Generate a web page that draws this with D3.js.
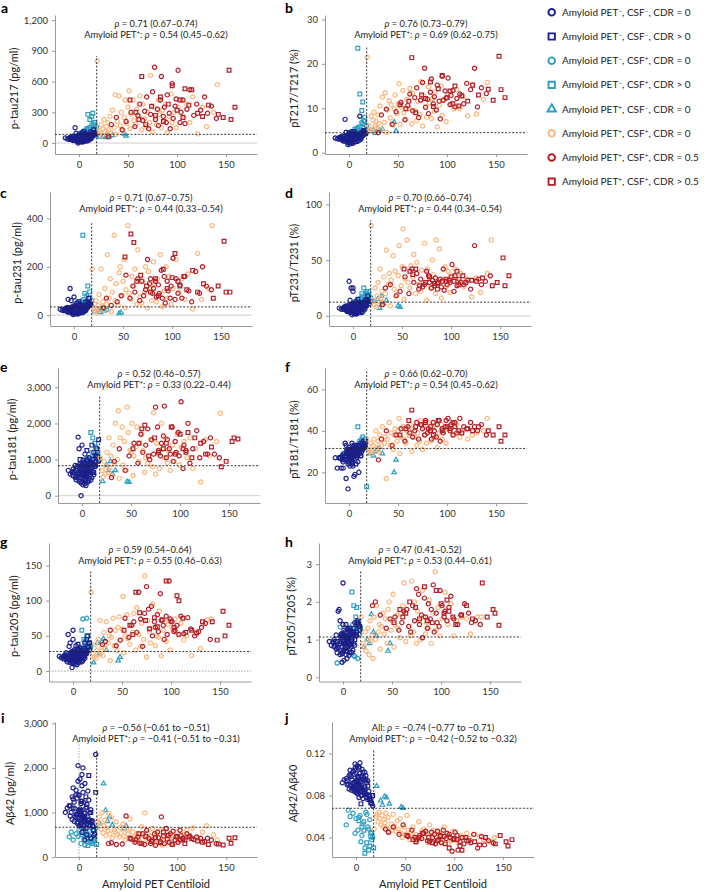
<!DOCTYPE html>
<html><head><meta charset="utf-8">
<script src="https://cdn.jsdelivr.net/npm/d3@7"></script>
<style>
body{margin:0;background:#fff;}
text{font-family:Lato,'Noto Sans',sans-serif;}
</style>
</head><body><script>
// ===== DATA =====
// Row layout: [Centiloid, p-tau217, pT217/T217 %, p-tau231, pT231/T231 %, p-tau181, pT181/T181 %, p-tau205, pT205/T205 %, Aβ42, Aβ42/Aβ40]
const petNegCsfNegCdr0 = [
[-3,40,3.1,20,6,620,28,20,0.9,950,0.092],[2,25,2.6,12,4,480,26,15,0.75,1200,0.098],[5,60,3.6,30,9,800,30,25,1.1,820,0.085],
[-1,15,2.2,8,3,350,24,12,0.65,1400,0.104],[8,70,3.9,35,10,900,31,28,1.2,500,0.082],[0,35,3.0,18,6,580,27,58,2.5,1050,0.094],
[4,45,3.3,22,7,700,29,22,1.0,920,0.090],[-6,30,2.8,65,5,520,22,18,0.8,1300,0.100],[11,85,8.2,40,12,1000,32,32,1.3,700,0.078],
[3,20,2.4,10,3,420,25,14,0.7,1600,0.106],[-2,55,3.4,28,25,750,30,24,1.05,880,0.088],[7,40,3.2,15,5,640,28,19,0.85,1100,0.095],
[1,10,2.0,5,2,300,23,10,0.45,1750,0.108],[-8,50,3.5,25,8,680,22,23,0.95,1000,0.091],[6,90,4.2,45,11,950,33,30,1.25,380,0.080],
[13,65,3.8,32,9,850,31,27,1.15,780,0.084],[-4,150,7.5,110,31,1620,34,35,1.8,900,0.087],[2,30,2.9,14,5,560,27,17,0.8,1250,0.097],
[9,55,3.5,26,8,720,29,23,1.0,850,0.086],[-1,0,1.8,2,1,0,12,5,0.4,2050,0.110],[5,45,3.2,20,6,600,28,21,0.9,980,0.093],
[0,75,4.5,75,22,1400,32,45,1.4,700,0.083],[15,100,4.8,50,13,1100,33,35,1.4,480,0.075],[-7,35,3.0,16,5,500,26,16,0.75,1350,0.099],
[3,50,3.4,24,7,660,29,22,0.95,940,0.089],[10,80,4.0,38,10,920,31,29,1.2,720,0.081],[-3,20,2.5,10,3,400,17,12,0.6,1500,0.103],
[6,60,3.7,28,8,780,30,24,1.05,860,0.087],[1,40,3.1,18,6,590,28,19,0.88,1080,0.094],[-10,45,3.3,22,7,640,27,20,0.92,1150,0.096],
[12,110,4.5,55,14,1200,34,40,1.45,420,0.076],[4,25,2.7,12,4,460,25,14,0.7,1450,0.101],[-5,60,3.6,30,9,820,29,52,1.75,800,0.085],
[8,35,3.0,16,5,540,27,17,0.8,1180,0.097],[2,70,3.9,33,9,860,30,26,1.1,760,0.084],[-2,30,2.8,14,4,500,26,15,0.72,1320,0.100],
[14,75,4.1,36,11,940,32,28,1.2,690,0.079],[0,55,3.4,26,25,730,29,22,1.0,960,0.090],[7,90,4.4,42,12,1050,33,33,1.3,640,0.077],
[-12,40,3.1,20,6,600,22,19,0.85,1100,0.095],[3,15,2.3,6,2,330,24,11,0.6,1850,0.107],[9,50,3.3,24,7,680,28,21,0.95,900,0.088],
[-1,65,3.7,30,9,820,30,25,1.1,780,0.086],[5,35,2.9,17,5,560,18,17,0.8,1220,0.098],[16,95,4.6,48,13,1080,33,34,1.35,520,0.072],
[-6,25,2.6,12,4,440,25,13,0.65,1550,0.104],[1,85,4.3,40,11,980,31,30,1.25,720,0.082],[11,45,3.2,22,7,650,29,20,0.9,1000,0.092],
[4,60,3.6,29,8,790,30,24,1.05,850,0.087],[-3,95,4.6,60,14,1300,33,40,1.5,1400,0.089],[6,20,2.4,9,3,380,19,12,0.58,1650,0.105],
[2,45,3.2,21,6,620,28,20,0.9,1020,0.093],[-9,55,3.5,27,8,740,27,22,1.0,920,0.090],[8,75,4.0,35,10,880,31,27,1.15,740,0.083],
[0,30,2.8,13,4,480,25,15,0.7,1380,0.101],[13,60,3.7,30,9,800,30,24,1.1,820,0.080],[3,100,4.7,50,13,1150,34,36,1.4,550,0.078],
[-4,40,3.1,19,6,600,28,19,0.86,1080,0.095],[10,30,2.7,14,4,500,20,15,0.72,1280,0.099],[5,55,3.5,27,8,760,29,23,1.0,900,0.088],
[-1,20,2.4,9,3,400,25,12,0.62,1700,0.106],[7,65,3.8,31,9,830,30,25,1.1,800,0.085],[-14,50,3.3,24,7,700,27,21,0.95,1000,0.092],
[2,80,4.1,38,10,920,31,28,1.2,740,0.082],[12,40,3.0,19,6,580,28,18,0.85,1060,0.094],[4,10,2.1,4,2,280,23,9,0.5,2000,0.111],
[-2,70,3.9,34,10,880,31,27,1.15,760,0.084],[6,45,3.2,21,6,640,28,20,0.92,990,0.091],[17,80,4.2,40,11,960,32,30,1.25,2300,0.070],
[1,50,3.3,24,7,690,29,21,0.96,940,0.090],[-7,65,3.7,32,9,840,28,26,1.12,840,0.086],[9,25,2.6,11,3,430,25,13,0.66,1480,0.102],
[3,60,3.6,28,8,780,30,24,1.05,870,0.087],[0,45,3.2,20,6,610,28,20,0.9,1030,0.093],[11,70,3.9,33,10,870,31,26,1.15,770,0.081],
[-5,35,3.0,17,5,540,26,16,0.78,1230,0.098],[5,85,4.3,41,11,1000,32,31,1.28,700,0.080],[8,40,3.1,19,6,590,28,18,0.87,1120,0.095],
[-2,50,3.4,23,7,670,29,21,0.94,960,0.091],[14,65,3.8,31,9,820,31,25,1.1,800,0.077]
];
const petNegCsfNegCdrPos = [
[-6,45,3.2,25,8,700,27,20,0.95,1100,0.090],[10,80,4.0,40,12,1400,33,30,1.2,1830,0.095],[3,30,2.8,15,5,550,26,18,0.8,1250,0.098],
[-2,60,3.7,30,10,1000,30,25,1.1,950,0.087],[14,100,4.6,50,14,1100,34,45,1.45,700,0.076],[7,20,2.5,10,3,420,24,14,0.65,1350,0.102],
[17,90,4.4,45,13,1550,35,40,1.35,1450,0.080],[0,70,3.9,35,11,850,30,28,1.15,880,0.085],[12,50,3.4,26,8,640,28,22,1.0,1000,0.089],
[5,110,4.8,55,15,1250,33,38,1.3,650,0.072],[-9,35,3.0,18,6,560,27,17,0.82,1150,0.094],[9,65,3.6,30,9,780,29,24,1.05,820,0.083],
[15,130,5.0,70,18,1300,35,50,1.5,600,0.073],[2,40,3.1,20,7,620,27,20,0.9,1050,0.092]
];
const petNegCsfPosCdr0 = [
[-10,50,3.4,20,6,650,27,20,0.95,450,0.052],[-6,70,3.8,30,9,760,29,24,0.38,380,0.060],[-3,40,3.1,18,5,560,26,18,1.33,520,0.063],
[0,90,4.3,45,12,900,31,28,1.1,620,0.058],[2,60,3.5,25,7,700,28,22,0.9,300,0.047],[4,110,4.6,55,14,1000,32,30,1.2,560,0.061],
[6,80,4.0,35,10,800,30,25,1.0,270,0.042],[8,130,5.2,60,16,1050,33,34,1.25,430,0.055],[10,150,5.8,65,18,1200,34,74,1.4,480,0.064],
[12,100,4.7,50,13,950,33,30,0.55,350,0.050],[14,170,6.5,55,20,1100,34,75,1.3,600,0.057],[15,120,5.5,40,15,1000,35,32,0.5,680,0.045],
[16,200,7.0,70,22,1150,36,40,1.45,520,0.038],[-8,45,3.3,22,6,620,27,19,0.8,560,0.066],[-1,75,3.9,32,9,780,29,24,1.05,460,0.044],
[3,55,3.4,25,7,680,28,21,0.9,640,0.059],[5,95,4.4,42,11,880,31,27,1.1,400,0.036],[7,65,3.7,28,8,740,29,23,0.95,500,0.053],
[9,140,5.6,52,15,980,33,31,1.2,330,0.030],[11,85,4.2,38,11,850,30,26,0.58,580,0.062],[13,180,6.8,58,18,1100,35,36,1.35,420,0.048],
[17,110,5.0,45,14,950,34,33,1.15,650,0.040]
];
const petNegCsfPosCdrPos = [
[9,280,23.5,330,20,1750,42,58,2.26,260,0.025],[11,230,13.2,90,25,1600,35,45,1.9,350,0.035],[14,290,11.4,120,22,1350,37,50,1.85,300,0.032],
[16,200,8.0,96,18,1200,33,40,1.5,420,0.044],[18,150,6.0,60,16,1000,13,35,1.3,280,0.030],[6,120,5.2,45,14,950,31,30,1.2,450,0.050],
[13,260,9.5,80,20,1450,36,42,1.6,330,0.028],[3,100,4.8,40,12,880,30,28,1.1,500,0.056],[15,180,7.2,70,17,1150,34,38,1.4,380,0.041],
[8,140,5.5,50,15,1000,32,33,1.25,520,0.047]
];
const petPosCsfNegCdr0 = [
[21,60,4.8,15,13,400,29,12,0.8,750,0.089],[25,70,5.2,20,15,850,28,40,1.0,1650,0.075],[27,55,4.4,12,7,700,30,25,0.9,1050,0.071],
[29,80,5.5,25,18,950,31,42,1.67,800,0.079],[31,65,5.0,18,11,600,32,46,1.2,900,0.078],[34,75,5.3,22,14,700,29,30,1.1,720,0.072],
[46,90,6.9,7,9,390,20,15,0.7,640,0.069],[48,70,4.9,10,8,380,26,20,0.9,700,0.068]
];
const petPosCsfPosCdr0 = [
[18.5,800,21.5,190,81,1050,36,112,1.6,780,0.048],[20.5,120,6.0,30,14,700,31,25,0.9,900,0.060],[21.5,95,5.1,18,10,520,30,20,0.8,760,0.062],
[22.5,180,8.2,60,25,950,34,38,1.2,620,0.055],[23.5,75,4.8,12,8,600,29,18,0.7,1000,0.064],[24.5,140,7.3,40,18,820,33,30,1.0,540,0.058],
[25.5,230,9.1,85,30,1200,36,45,1.3,700,0.052],[26.5,110,5.9,25,13,650,31,24,0.6,830,0.061],[27.5,160,7.0,190,42,1600,40,72,1.5,480,0.050],
[28.5,90,5.5,35,16,780,32,28,0.95,650,0.057],[29.5,200,8.5,55,22,1100,35,35,1.1,590,0.054],[30.5,130,6.6,20,12,560,30,22,0.5,980,0.063],
[31.5,260,10.5,110,35,1400,38,55,1.6,520,0.049],[33,100,5.2,45,20,900,33,32,1.0,880,0.059],[34,320,12.5,250,59,2000,42,70,1.9,430,0.045],
[36,150,6.8,70,28,1000,34,40,1.2,610,0.053],[37,470,13.5,150,38,2350,37,50,1.4,560,0.047],[38,85,4.6,15,9,480,17,15,0.75,790,0.062],
[39,210,9.6,95,32,1600,36,48,1.35,500,0.051],[41,460,11.7,330,54,1900,44,75,1.7,450,0.046],[42,170,7.8,60,24,850,33,36,1.15,660,0.056],
[43,300,10.8,130,40,1500,39,58,1.55,540,0.048],[45,120,6.2,40,19,700,31,29,0.9,740,0.058],[46,250,9.9,175,36,2450,38,62,1.8,470,0.044],
[47,420,13,200,63,1750,41,77,2.0,380,0.040],[49,190,8.8,80,27,1250,35,44,1.25,600,0.050],[50,350,11,140,44,1200,40,60,1.5,510,0.043],
[51,510,15.5,230,78,2000,46,106,2.2,620,0.042],[52,140,6.4,30,15,560,29,26,0.8,850,0.061],[53,280,10.2,105,33,1100,37,50,1.4,430,0.047],
[55,420,14,370,68,1350,42,80,1.65,560,0.038],[56,220,9.0,90,30,1900,36,46,1.3,390,0.045],[58,180,7.5,65,25,950,34,38,1.05,470,0.050],
[59,330,12,160,45,1450,40,65,1.7,520,0.041],[61,260,10,120,35,1700,38,55,1.9,440,0.043],[62,460,14.5,190,55,1250,43,82,2.5,350,0.036],
[64,130,6.5,45,20,650,30,30,0.95,680,0.055],[65,380,13.4,270,48,1050,41,90,1.8,480,0.039],[67,240,9.5,75,28,900,37,52,1.35,990,0.046],
[69,160,7.2,50,22,1000,33,35,1.1,400,0.048],[70,300,11.5,140,41,1550,39,68,2.55,540,0.040],[72,200,8.6,95,30,800,35,45,1.2,380,0.044],
[73,660,16,200,65,2300,45,135,2.0,460,0.035],[75,110,6.0,30,14,600,31,20,0.9,640,0.052],[76,350,12.8,180,42,1450,42,72,1.75,350,0.037],
[78,250,10.4,110,34,1150,38,56,1.5,290,0.042],[79,180,8.0,60,25,750,34,40,1.0,520,0.047],[81,420,14.8,220,50,2000,44,95,2.3,430,0.034],
[82,280,11.2,130,37,1300,40,62,1.6,330,0.040],[84,150,7.7,55,20,1050,35,36,1.15,610,0.045],[85,320,12.2,150,68,1600,41,50,1.45,270,0.038],
[87,220,9.3,85,29,900,37,48,1.3,450,0.043],[88,380,13.8,250,60,1250,43,85,2.05,320,0.036],[90,100,5.8,35,16,700,32,22,0.9,560,0.050],
[92,260,10.7,100,33,1400,39,58,1.7,400,0.039],[94,480,15,200,44,950,43,70,2.8,360,0.034],[95,200,8.4,70,26,1150,36,42,1.25,480,0.041],
[97,300,11.9,160,40,1700,40,66,1.85,300,0.037],[99,150,7.0,45,21,850,34,30,1.1,560,0.046],[101,350,13.1,110,36,1350,42,60,1.55,420,0.038],
[104,420,11,230,42,1500,41,74,2.25,380,0.035],[107,250,9.8,95,31,1050,38,52,1.4,510,0.042],[110,380,14.2,150,38,1600,43,68,1.95,600,0.040],
[113,200,10.0,65,26,750,37,44,1.1,480,0.044],[116,450,12.6,170,33,1300,40,50,1.5,650,0.039],[121,90,8.3,25,17,380,36,22,1.6,410,0.043],
[126,350,15.4,255,34,1550,38,54,1.55,560,0.041],[130,160,8.7,65,21,1100,39,32,1.15,700,0.038],[137,300,12.0,110,38,1500,40,73,1.6,500,0.036],
[141,570,15.8,370,68,2280,46,74,1.6,380,0.040]
];
const petPosCsfPosCdr05 = [
[30,60,4.5,30,10,500,26,38,1.9,300,0.048],[33,180,8.5,70,25,950,36,42,2.0,320,0.045],[38,250,9.8,40,28,1300,40,58,1.65,280,0.050],
[44,130,6.4,55,18,700,33,36,1.3,290,0.043],[48,210,9.2,80,22,1100,38,44,1.55,920,0.052],[53,300,11.3,165,35,1450,41,75,1.6,400,0.041],
[57,160,7.4,70,20,900,35,48,1.25,330,0.047],[60,270,10.6,120,42,1700,42,65,1.45,450,0.040],[62,380,13.2,95,30,1200,39,70,1.75,310,0.038],
[65,220,9.4,150,38,1400,37,55,1.8,520,0.042],[67,310,12.4,60,24,1850,40,112,1.35,280,0.039],[69,450,14.6,140,33,1000,44,74,1.2,600,0.044],
[71,140,7.9,80,26,1550,36,35,1.9,420,0.046],[73,280,11.8,105,28,1150,43,82,1.5,300,0.037],[75,500,15.8,230,40,2450,41,120,2.35,380,0.036],
[77,740,19.0,130,36,1900,38,88,2.2,520,0.045],[78,230,10.2,150,30,1250,45,60,1.4,260,0.040],[80,330,12.0,90,25,1100,39,92,1.65,560,0.043],
[81,170,8.8,110,32,1450,41,50,1.05,430,0.034],[83,420,13.6,140,27,1650,42,70,2.1,350,0.046],[84,650,16.6,75,34,2480,36,62,1.6,900,0.038],
[86,260,11.0,125,29,1050,44,80,1.3,470,0.042],[87,350,12.6,90,30,1550,40,56,1.95,300,0.035],[89,200,9.6,185,33,1300,37,110,1.55,640,0.047],
[90,470,15.2,70,26,1150,43,72,1.8,400,0.041],[92,290,11.6,160,42,1900,45,65,2.45,330,0.039],[93,140,7.6,50,23,950,35,45,1.2,520,0.044],
[95,580,17.2,140,31,1500,41,78,1.7,280,0.043],[96,240,11.8,100,28,1200,39,52,1.45,580,0.040],[98,360,13.9,70,32,1750,42,128,1.35,380,0.027],
[99,430,12.3,120,30,1100,45,74,2.3,450,0.038],[101,710,16.8,235,46,2600,46,70,1.9,330,0.045],[103,200,10.8,65,22,750,40,56,1.6,600,0.042],
[104,300,12.9,150,36,1400,43,58,1.75,480,0.028],[106,420,14.0,90,27,1250,38,65,1.5,420,0.036],[108,190,10.3,125,33,2000,44,52,1.85,380,0.040],
[110,330,12.2,70,30,900,39,78,2.15,520,0.034],[113,520,13.2,160,28,1300,46,53,1.55,470,0.037],[117,270,11.0,100,32,1800,42,76,1.4,390,0.035],
[120,380,15.6,55,24,1050,41,60,1.65,450,0.043],[124,320,14.2,180,63,1500,44,50,1.95,420,0.030],[128,450,19.0,90,33,1150,42,56,1.7,350,0.041],
[131,290,10.3,200,28,1600,40,62,1.45,420,0.033],[135,360,14.6,120,31,1150,43,68,1.5,380,0.037],[140,240,13.3,105,36,1050,38,45,1.4,300,0.035]
];
const petPosCsfPosCdrGt05 = [
[52,420,10.8,240,42,1300,38,58,1.45,420,0.042],[58,300,9.9,335,40,1450,41,65,1.8,380,0.038],[61,230,11.6,300,37,1850,45,52,1.6,520,0.036],
[64,650,21.4,140,42,1950,50,112,1.7,300,0.040],[68,180,9.0,165,27,1100,42,83,2.0,460,0.044],[74,360,13.0,120,30,1600,43,72,1.85,350,0.040],
[78,270,12.2,95,35,1200,44,60,1.55,430,0.035],[83,450,15.9,150,29,1300,40,76,2.4,320,0.037],[86,210,10.4,80,24,1450,38,63,1.5,560,0.041],
[91,380,14.4,190,31,1900,45,73,1.45,490,0.034],[95,560,17.4,110,33,1150,40,128,2.3,280,0.030],[100,320,12.4,155,35,1700,42,71,1.95,460,0.039],
[103,420,13.9,255,31,1300,41,62,1.7,380,0.038],[106,250,11.0,140,40,1200,44,107,2.05,410,0.032],[108,530,15.0,120,28,1750,42,100,1.75,300,0.028],
[112,370,10.5,160,36,1050,40,75,1.6,450,0.040],[115,520,12.8,105,30,1600,39,55,1.4,410,0.037],[121,290,11.6,185,32,1450,41,58,1.65,360,0.036],
[126,260,15.2,95,31,1150,40,54,1.9,330,0.033],[132,370,13.0,130,34,1350,42,70,1.55,280,0.040],[142,280,14.3,70,27,800,40,70,2.5,290,0.034],
[147,250,11.8,120,30,950,38,44,1.6,270,0.042],[153,710,21.7,305,52,1500,42,85,1.8,420,0.036],[155,230,14.2,95,27,1600,35,50,1.7,310,0.032],
[159,350,12.4,95,36,1570,38,65,1.38,430,0.038]
];

const legendLabels = [
 'Amyloid PET⁻, CSF⁻, CDR = 0','Amyloid PET⁻, CSF⁻, CDR > 0','Amyloid PET⁻, CSF⁺, CDR = 0','Amyloid PET⁻, CSF⁺, CDR > 0',
 'Amyloid PET⁺, CSF⁻, CDR = 0','Amyloid PET⁺, CSF⁺, CDR = 0','Amyloid PET⁺, CSF⁺, CDR = 0.5','Amyloid PET⁺, CSF⁺, CDR > 0.5'
];
const panelLetters = ['a','b','c','d','e','f','g','h','i','j'];
const yTitles = ['p-tau217 (pg/ml)','pT217/T217 (%)','p-tau231 (pg/ml)','pT231/T231 (%)','p-tau181 (pg/ml)','pT181/T181 (%)',
 'p-tau205 (pg/ml)','pT205/T205 (%)','Aβ42 (pg/ml)','Aβ42/Aβ40'];
const yTicks = [[0,300,600,900,1200],[0,10,20,30],[0,200,400],[0,50,100],[0,1000,2000,3000],[20,40,60],[0,50,100,150],[0,1,2,3],[0,1000,2000,3000],[0.04,0.08,0.12]];
const xTicks = [0,50,100,150];
const thresholds = [85,4.5,34,12.3,830,31.5,27.8,1.07,667,0.0678];
const centiloidCut = 18;
const rhoAll = ['ρ = 0.71 (0.67–0.74)','ρ = 0.76 (0.73–0.79)','ρ = 0.71 (0.67–0.75)','ρ = 0.70 (0.66–0.74)','ρ = 0.52 (0.46–0.57)',
 'ρ = 0.66 (0.62–0.70)','ρ = 0.59 (0.54–0.64)','ρ = 0.47 (0.41–0.52)','ρ = −0.56 (−0.61 to −0.51)','All: ρ = −0.74 (−0.77 to −0.71)'];
const rhoPos = ['Amyloid PET⁺: ρ = 0.54 (0.45–0.62)','Amyloid PET⁺: ρ = 0.69 (0.62–0.75)','Amyloid PET⁺: ρ = 0.44 (0.33–0.54)',
 'Amyloid PET⁺: ρ = 0.44 (0.34–0.54)','Amyloid PET⁺: ρ = 0.33 (0.22–0.44)','Amyloid PET⁺: ρ = 0.54 (0.45–0.62)',
 'Amyloid PET⁺: ρ = 0.55 (0.46–0.63)','Amyloid PET⁺: ρ = 0.53 (0.44–0.61)','Amyloid PET⁺: ρ = −0.41 (−0.51 to −0.31)',
 'Amyloid PET⁺: ρ = −0.42 (−0.52 to −0.32)'];
const xTitle = 'Amyloid PET Centiloid';

// ===== LAYOUT / STYLE =====
const NAVY='#1c1f8a', TEAL='#2e9fc3', ORANGE='#fdb67c', RED='#b41e28';
const PW = 202, XDOM = [-24.5, 181.5];
const layout = [
 {left:55, top:15, bottom:154, yDom:[-107,1250], titleX:13, letterX:1, letterY:13, annoY:27, vTop:850, zero:'solid'},
 {left:325, top:15, bottom:154, yDom:[-0.3,31], titleX:293, letterX:285, letterY:13, annoY:27, vTop:24},
 {left:50, top:192, bottom:326, yDom:[-45,509], titleX:16, letterX:0, letterY:198, annoY:201, vTop:386, zero:'solid'},
 {left:329, top:192, bottom:326, yDom:[-9,111], titleX:293, letterX:285, letterY:198, annoY:201, vTop:85.6, zero:'solid'},
 {left:58, top:368, bottom:503, yDom:[-202,3534], titleX:11, letterX:0, letterY:372, annoY:377, vTop:2790, zero:'solid'},
 {left:325, top:368, bottom:503, yDom:[5.2,70.3], titleX:293, letterX:285, letterY:372, annoY:377, vTop:69.5},
 {left:49, top:543, bottom:681.5, yDom:[-14.8,182], titleX:13, letterX:0, letterY:547, annoY:553, vTop:142, zero:'dotted'},
 {left:319, top:543, bottom:681.5, yDom:[-0.11,3.56], titleX:290, letterX:285, letterY:547, annoY:553, vTop:2.81},
 {left:55, top:722, bottom:857, yDom:[0,3030], titleX:9, letterX:1, letterY:723, annoY:731, vTop:2420, vZero:true},
 {left:332, top:722, bottom:857, yDom:[0.0215,0.1498], titleX:292, letterX:285, letterY:723, annoY:731, vTop:0.1242}
];
const sym = {circle:d3.symbolCircle, square:d3.symbolSquare, triangle:d3.symbolTriangle};
const groups = [
 {rows:petNegCsfPosCdr0, shape:'circle', color:TEAL, leg:2},
 {rows:petNegCsfPosCdrPos, shape:'square', color:TEAL, leg:3},
 {rows:petNegCsfNegCdr0, shape:'circle', color:NAVY, leg:0},
 {rows:petNegCsfNegCdrPos, shape:'square', color:NAVY, leg:1},
 {rows:petPosCsfNegCdr0, shape:'triangle', color:TEAL, leg:4},
 {rows:petPosCsfPosCdr0, shape:'circle', color:ORANGE, leg:5},
 {rows:petPosCsfPosCdr05, shape:'circle', color:RED, leg:6},
 {rows:petPosCsfPosCdrGt05, shape:'square', color:RED, leg:7}
];
const symSize = {circle:14, square:14, triangle:9};

const svg = d3.select('body').append('svg').attr('width',715).attr('height',892);

function richText(sel, str){
  const parts = str.split(/(ρ|⁺|⁻)/).filter(s=>s.length);
  parts.forEach(p=>{
    if(p==='ρ') sel.append('tspan').attr('font-style','italic').text('ρ');
    else if(p==='⁺'||p==='⁻') sel.append('tspan').attr('baseline-shift','super').attr('font-size','0.65em').text(p==='⁺'?'+':'−');
    else sel.append('tspan').text(p);
  });
}

layout.forEach((L, i) => {
  const col = i + 1;
  const g = svg.append('g');
  const x = d3.scaleLinear().domain(XDOM).range([L.left, L.left+PW]);
  const y = d3.scaleLinear().domain(L.yDom).range([L.bottom, L.top]);
  const fmt = i===9 ? d3.format('.2f') : d3.format(',');

  if (L.zero==='solid') g.append('line').attr('x1',L.left).attr('x2',L.left+PW).attr('y1',y(0)).attr('y2',y(0))
     .attr('stroke','#cfcfcf').attr('stroke-width',1);
  if (L.zero==='dotted') g.append('line').attr('x1',L.left).attr('x2',L.left+PW).attr('y1',y(0)).attr('y2',y(0))
     .attr('stroke','#888').attr('stroke-width',0.8).attr('stroke-dasharray','1.5,1.5');
  if (L.vZero) g.append('line').attr('x1',x(0)).attr('x2',x(0)).attr('y1',L.bottom).attr('y2',y(2620))
     .attr('stroke','#bbb').attr('stroke-width',1.2).attr('stroke-dasharray','1.5,1.5');

  const yAx = g.append('g').attr('transform',`translate(${L.left},0)`)
    .call(d3.axisLeft(y).tickValues(yTicks[i]).tickFormat(fmt).tickSize(3).tickPadding(4).tickSizeOuter(0));
  const xAx = g.append('g').attr('transform',`translate(0,${L.bottom})`)
    .call(d3.axisBottom(x).tickValues(xTicks).tickSize(3).tickPadding(4).tickSizeOuter(0));
  [yAx,xAx].forEach(a=>{
    a.select('.domain').attr('stroke','#9a9a9a');
    a.selectAll('.tick line').attr('stroke','#9a9a9a');
    a.selectAll('.tick text').attr('fill','#333').attr('font-size',9.5).attr('font-family','Lato, sans-serif');
  });

  groups.forEach(G=>{
    g.append('g').selectAll('path').data(G.rows).join('path')
      .attr('transform',d=>`translate(${x(d[0])},${y(d[col])})`)
      .attr('d', d3.symbol().type(sym[G.shape]).size(symSize[G.shape]))
      .attr('fill','none').attr('stroke',G.color).attr('stroke-width',1.2);
  });

  g.append('line').attr('x1',L.left).attr('x2',L.left+PW).attr('y1',y(thresholds[i])).attr('y2',y(thresholds[i]))
    .attr('stroke','#222').attr('stroke-width',0.9).attr('stroke-dasharray','2,1.6');
  g.append('line').attr('x1',x(centiloidCut)).attr('x2',x(centiloidCut)).attr('y1',L.bottom).attr('y2',y(L.vTop))
    .attr('stroke','#222').attr('stroke-width',0.9).attr('stroke-dasharray','2,1.6');

  const cx = L.left + PW/2;
  const t1 = g.append('text').attr('x',cx).attr('y',L.annoY).attr('text-anchor','middle').attr('font-size',9.3).attr('fill','#222');
  richText(t1, rhoAll[i]);
  const t2 = g.append('text').attr('x',cx).attr('y',L.annoY+10.5).attr('text-anchor','middle').attr('font-size',9.3).attr('fill','#222');
  richText(t2, rhoPos[i]);

  g.append('text').attr('transform',`translate(${L.titleX},${(L.top+L.bottom)/2+4}) rotate(-90)`)
    .attr('text-anchor','middle').attr('dominant-baseline','central').attr('font-size',11).attr('fill','#222').text(yTitles[i]);

  g.append('text').attr('x',L.letterX).attr('y',L.letterY).attr('font-size',14).attr('font-weight','bold')
    .attr('font-family','Liberation Sans, Arial, sans-serif').attr('fill','#000').text(panelLetters[i]);

  if (i>=8) g.append('text').attr('x',cx).attr('y',888).attr('text-anchor','middle').attr('font-size',11).attr('fill','#222').text(xTitle);
});

const lg = svg.append('g');
const legOrder = [...groups].sort((a,b)=>a.leg-b.leg);
legOrder.forEach((G,k)=>{
  const yy = 12.3 + k*24.2;
  lg.append('path').attr('transform',`translate(551.7,${yy})`)
    .attr('d', d3.symbol().type(sym[G.shape]).size(G.shape==='circle'?34:(G.shape==='square'?40:30)))
    .attr('fill','none').attr('stroke',G.color).attr('stroke-width',1.9);
  const t = lg.append('text').attr('x',562).attr('y',yy+3.5).attr('font-size',10).attr('fill','#222');
  richText(t, legendLabels[G.leg]);
});
</script></body></html>
